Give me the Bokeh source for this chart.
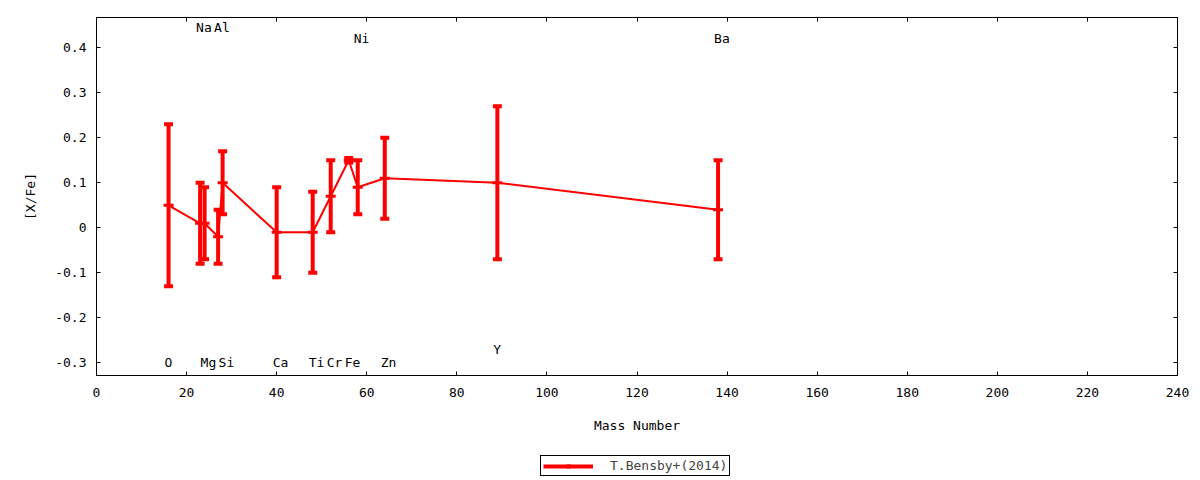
import math
from bokeh.plotting import figure
from bokeh.layouts import column
from bokeh.models import (ColumnDataSource, Range1d, LinearAxis, FixedTicker,
                          Legend, LegendItem)
from bokeh.core.properties import value
from bokeh.embed import file_html
from bokeh.resources import INLINE

# ---- data ----
elements = ["O", "Na", "Mg", "Al", "Si", "Ca", "Ti", "Cr", "Fe", "Ni", "Zn", "Y", "Ba"]
mass = [16, 23, 24, 27, 28, 40, 48, 52, 56, 58, 64, 89, 138]
x_fe = [0.05, 0.01, 0.01, -0.02, 0.10, -0.01, -0.01, 0.07, 0.15, 0.09, 0.11, 0.10, 0.04]
x_fe_err = [0.18, 0.09, 0.08, 0.06, 0.07, 0.10, 0.09, 0.08, 0.005, 0.06, 0.09, 0.17, 0.11]
label_y = [-0.30, 0.445, -0.30, 0.445, -0.30, -0.30, -0.30, -0.30, -0.30, 0.42, -0.30, -0.27, 0.42]
x_ticks = [0, 20, 40, 60, 80, 100, 120, 140, 160, 180, 200, 220, 240]
y_ticks = [-0.3, -0.2, -0.1, 0, 0.1, 0.2, 0.3, 0.4]
y_tick_labels = ["-0.3", "-0.2", "-0.1", "0", "0.1", "0.2", "0.3", "0.4"]
series_name = "T.Bensby+(2014)"
x_title = "Mass Number"
y_title = "[X/Fe]"

FONT = "DejaVu Sans Mono"
FS = "13px"
RED = "#ff0000"

src = ColumnDataSource(dict(
    x=mass, y=x_fe,
    upper=[v + e for v, e in zip(x_fe, x_fe_err)],
    lower=[v - e for v, e in zip(x_fe, x_fe_err)],
))
lab_src = ColumnDataSource(dict(x=mass, y=label_y, text=elements))

p = figure(frame_width=1081, frame_height=358, output_backend="svg",
           toolbar_location=None,
           x_range=Range1d(0, 240), y_range=Range1d(-0.328, 0.467),
           min_border_left=96, min_border_right=15, min_border_top=17,
           min_border_bottom=65, background_fill_color="white",
           border_fill_color="white")
p.xgrid.visible = False
p.ygrid.visible = False
p.outline_line_color = "black"
p.outline_line_width = 1
p.outline_line_alpha = 1.0


def style_axis(ax, show_labels=True):
    ax.major_tick_in = 4
    ax.major_tick_out = 0
    ax.minor_tick_in = 0
    ax.minor_tick_out = 0
    ax.axis_line_color = "black"
    ax.major_tick_line_color = "black"
    ax.major_label_text_font = FONT
    ax.major_label_text_color = "black"
    ax.major_label_text_font_size = FS
    ax.axis_label_text_font = FONT
    ax.axis_label_text_font_size = FS
    ax.axis_label_text_font_style = "normal"
    ax.axis_label_text_color = "black"
    if not show_labels:
        ax.major_label_text_color = None
        ax.major_label_standoff = 0


xa = p.xaxis[0]
xa.ticker = FixedTicker(ticks=x_ticks)
xa.axis_label = x_title
style_axis(xa)
xa.major_label_standoff = 12
xa.axis_label_standoff = 18

ya = p.yaxis[0]
ya.ticker = FixedTicker(ticks=y_ticks)
ya.major_label_overrides = {t: l for t, l in zip(y_ticks, y_tick_labels)}
ya.axis_label = y_title
style_axis(ya)
ya.major_label_standoff = 10
ya.axis_label_standoff = 14

top_ax = LinearAxis(ticker=FixedTicker(ticks=x_ticks))
style_axis(top_ax, show_labels=False)
top_ax.major_label_overrides = {t: "" for t in x_ticks}
p.add_layout(top_ax, "above")
right_ax = LinearAxis(ticker=FixedTicker(ticks=y_ticks))
style_axis(right_ax, show_labels=False)
right_ax.major_label_overrides = {t: "" for t in y_ticks}
p.add_layout(right_ax, "right")

# ---- glyphs ----
p.line("x", "y", source=src, line_color=RED, line_width=2)
p.segment(x0="x", y0="lower", x1="x", y1="upper", source=src,
          line_color=RED, line_width=4)
p.scatter("x", "upper", source=src, marker="dash", size=9, line_width=4,
          line_color=RED)
p.scatter("x", "lower", source=src, marker="dash", size=9, line_width=4,
          line_color=RED)
p.scatter("x", "y", source=src, marker="dash", size=10, line_width=3,
          line_color=RED)

p.text("x", "y", text="text", source=lab_src, text_font=value(FONT),
       text_font_size=FS, text_align="left", text_baseline="middle",
       x_offset=-4, text_color="black")

# ---- legend in a small strip below (key glyphs kept off-canvas) ----
lg = figure(width=1192, height=38, output_backend="svg", toolbar_location=None,
            x_axis_type=None, y_axis_type=None, x_range=Range1d(0, 1),
            y_range=Range1d(0, 1), min_border=0, outline_line_color=None,
            background_fill_color="white", border_fill_color="white")
lg.xgrid.visible = False
lg.ygrid.visible = False
key_src = ColumnDataSource(dict(x=[-10], y=[-10], lo=[-11], hi=[-9]))
key_bar = lg.segment(x0="x", y0="lo", x1="x", y1="hi", source=key_src,
                     line_color=RED, line_width=4)
key_tick = lg.scatter("x", "y", source=key_src, marker="dash",
                      angle=math.pi / 2, size=10, line_width=4,
                      line_color=RED)
legend = Legend(items=[LegendItem(label=series_name, index=0,
                                  renderers=[key_bar, key_tick])],
                location=(444, 2), orientation="horizontal",
                border_line_color="black", border_line_width=1,
                border_line_alpha=1.0,
                label_text_font=FONT, label_text_font_size=FS,
                glyph_width=50, glyph_height=12, label_height=12,
                padding=2, margin=0, label_standoff=17,
                background_fill_color="white", background_fill_alpha=1.0)
lg.add_layout(legend, "center")

layout = column(p, lg, spacing=0)
open("out.html", "w").write(file_html(layout, INLINE))
